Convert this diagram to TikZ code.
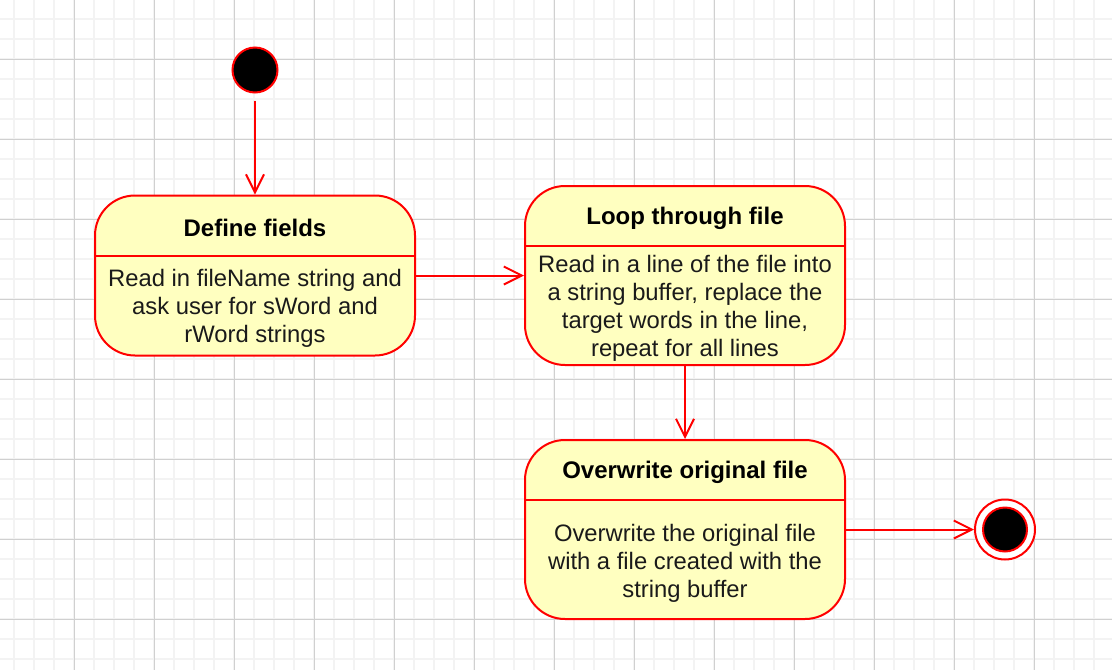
\documentclass[tikz,border=0pt]{standalone}
\usepackage{fontspec}
\setmainfont{Liberation Sans}
\usetikzlibrary{arrows.meta}
\definecolor{statefill}{HTML}{FFFFC0}
\definecolor{statered}{HTML}{FF0000}
\definecolor{minorgrid}{HTML}{F3F3F3}
\definecolor{majorgrid}{HTML}{D0D0D0}
\definecolor{bodytext}{HTML}{1A1A1A}
\tikzset{
  minorline/.style={draw=minorgrid, line width=1.5pt},
  majorline/.style={draw=majorgrid, line width=0.9pt},
  statebox/.style={draw=statered, fill=statefill, line width=2pt, rounded corners=40pt,
    minimum width=320pt, inner sep=0pt},
  divider/.style={draw=statered, line width=2pt},
  titletext/.style={font=\fontsize{24}{28}\selectfont\bfseries, text=black, align=center, inner sep=0pt},
  bodytxt/.style={font=\fontsize{23.8}{28}\selectfont, text=bodytext, align=center, inner sep=0pt},
  flow/.style={draw=statered, line width=2pt, -{Straight Barb[length=18pt,width=18pt,line width=2pt]}},
  initstate/.style={circle, draw=statered, fill=black, line width=2pt, minimum size=45pt, inner sep=0pt},
  finalring/.style={circle, draw=statered, fill=white, line width=2pt, minimum size=60pt, inner sep=0pt},
  finaldot/.style={circle, draw=statered, fill=black, line width=2pt, minimum size=44pt, inner sep=0pt},
}
\begin{document}
\begin{tikzpicture}[x=1pt,y=-1pt]
\useasboundingbox (0,0) rectangle (1112,670);
\fill[white] (0,0) rectangle (1112,670);
% grid
\foreach \x in {14,34,...,1110} \draw[minorline] (\x,0) -- (\x,670);
\foreach \y in {19,39,...,660} \draw[minorline] (0,\y) -- (1112,\y);
\foreach \x in {74,154,...,1110} \draw[majorline] (\x,0) -- (\x,670);
\foreach \y in {59,139,...,660} \draw[majorline] (0,\y) -- (1112,\y);

% initial state
\node[initstate] (start) at (255,70) {};

% Define fields
\node[statebox, minimum height=160pt] (def) at (255,275.5) {};
\coordinate (defL) at (95,256);
\coordinate (defR) at (415,256);
\draw[divider] (defL) -- (defR);
\node[titletext] (deftitle) at (255,227.5) {Define fields};
\node[bodytxt] (defbody) at (255,308) {Read in fileName string and\\ask user for sWord and\\rWord strings};

% Loop through file
\node[statebox, minimum height=179pt] (loop) at (685,275.5) {};
\coordinate (loopL) at (525,245.5);
\coordinate (loopR) at (845,245.5);
\draw[divider] (loopL) -- (loopR);
\node[titletext] (looptitle) at (685,218.5) {Loop through file};
\node[bodytxt] (loopbody) at (685,308.5) {Read in a line of the file into\\a string buffer, replace the\\target words in the line,\\repeat for all lines};

% Overwrite original file
\node[statebox, minimum height=179pt] (over) at (685,529.5) {};
\coordinate (overL) at (525,499.5);
\coordinate (overR) at (845,499.5);
\draw[divider] (overL) -- (overR);
\node[titletext] (overtitle) at (685,472.5) {Overwrite original file};
\node[bodytxt] (overbody) at (685,563.5) {Overwrite the original file\\with a file created with the\\string buffer};

% final state
\node[finalring] (final) at (1005,529.5) {};
\node[finaldot] (finaldot) at (final) {};

% transitions
\draw[flow, shorten <=7pt] (start) -- (def.north);
\draw[flow] (def.east) -- (loop.west |- def.east);
\draw[flow] (loop.south) -- (over.north);
\draw[flow] (over.east) -- (final.west);
\end{tikzpicture}
\end{document}
